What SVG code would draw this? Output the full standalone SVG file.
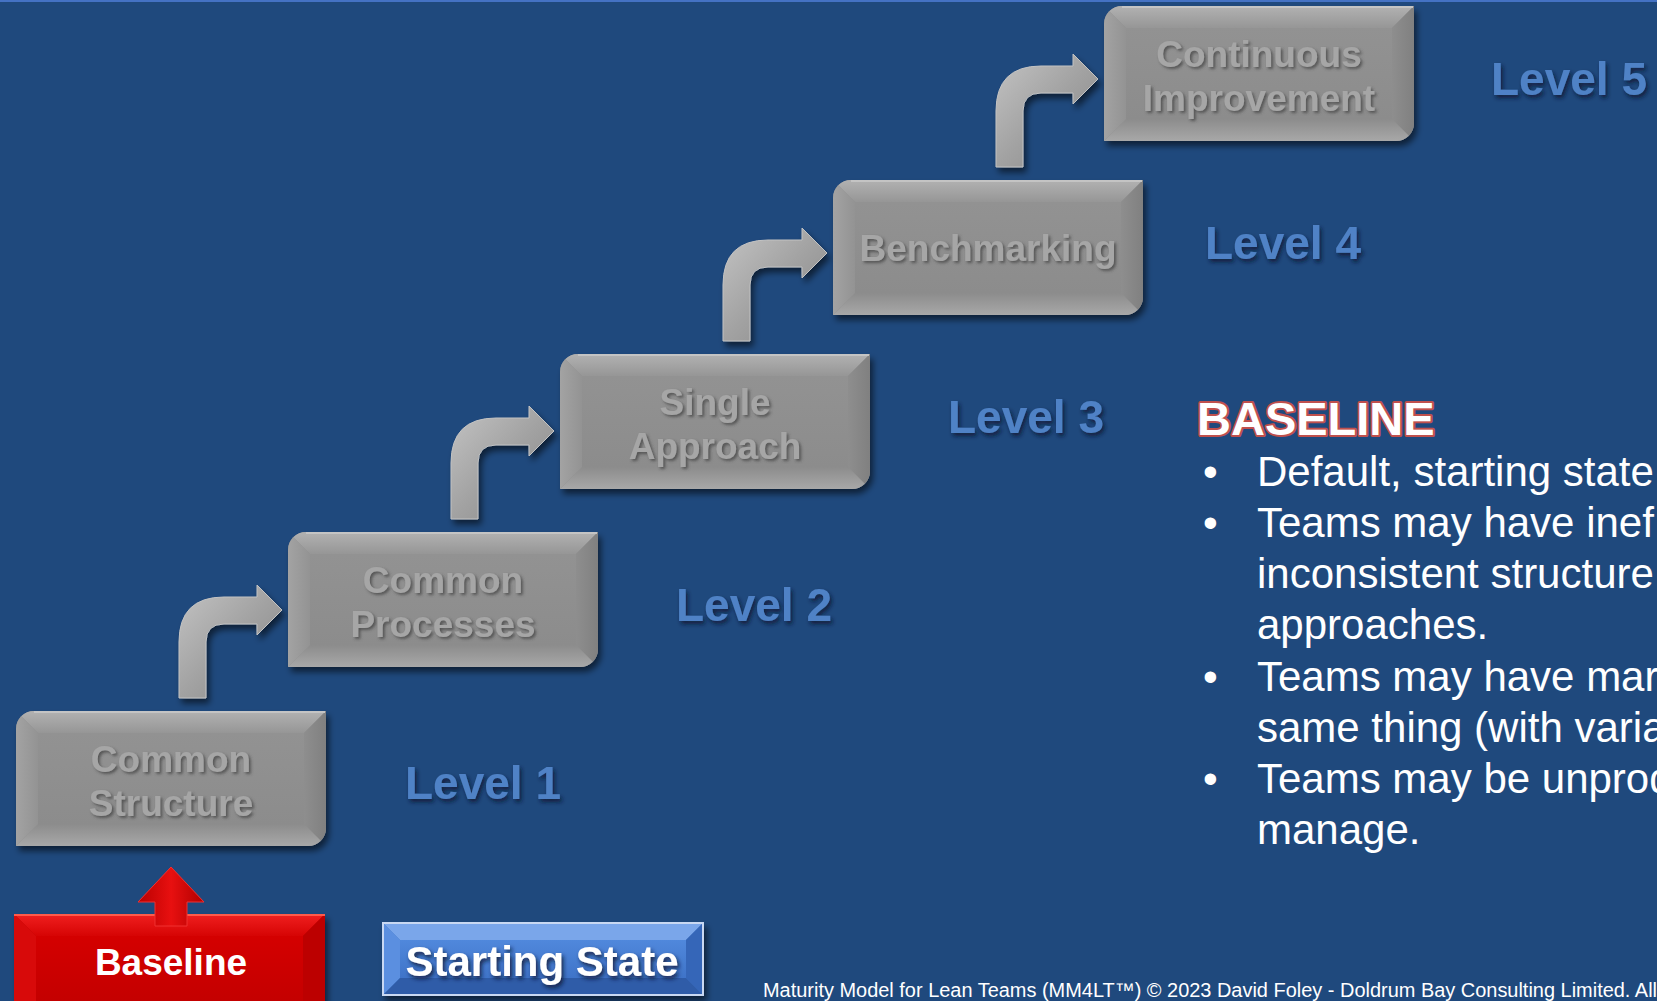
<svg xmlns="http://www.w3.org/2000/svg" xmlns:xlink="http://www.w3.org/1999/xlink" width="1657" height="1001" viewBox="0 0 1657 1001">
<style>
.lvl{font-family:"Liberation Sans",Arial,sans-serif;font-weight:bold;font-size:46px;fill:#4f82c6;filter:url(#tsh)}
.bt{font-family:"Liberation Sans",Arial,sans-serif;font-weight:bold;font-size:37px;fill:#a6a6a6;text-anchor:middle;filter:url(#tsh2)}
.body{font-family:"Liberation Sans",Arial,sans-serif;font-size:42px;fill:#ffffff}
.wt{font-family:"Liberation Sans",Arial,sans-serif;font-weight:bold;fill:#ffffff}
.arr{fill:url(#ag);stroke:#c2c2c2;stroke-width:1;filter:url(#sh)}
</style>
<defs>
<filter id="sh" x="-20%" y="-20%" width="150%" height="150%"><feDropShadow dx="3" dy="5" stdDeviation="3" flood-color="#000" flood-opacity="0.55"/></filter>
<filter id="tsh" x="-10%" y="-20%" width="130%" height="150%"><feDropShadow dx="2" dy="3" stdDeviation="2" flood-color="#081830" flood-opacity="0.85"/></filter>
<filter id="tsh2" x="-10%" y="-20%" width="130%" height="150%"><feDropShadow dx="2" dy="2" stdDeviation="1.5" flood-color="#3a3a3a" flood-opacity="0.7"/></filter>
<linearGradient id="ag" x1="0" y1="0" x2="1" y2="1"><stop offset="0" stop-color="#c4c4c4"/><stop offset="0.5" stop-color="#a2a2a2"/><stop offset="1" stop-color="#858585"/></linearGradient>
<linearGradient id="face" x1="0" y1="0" x2="0" y2="1"><stop offset="0" stop-color="#929292"/><stop offset="1" stop-color="#8c8c8c"/></linearGradient>
<linearGradient id="ftop" x1="0" y1="0" x2="0" y2="1"><stop offset="0" stop-color="#b2b2b2"/><stop offset="1" stop-color="#969696"/></linearGradient>
<linearGradient id="fleft" x1="0" y1="0" x2="1" y2="0"><stop offset="0" stop-color="#a3a3a3"/><stop offset="1" stop-color="#939393"/></linearGradient>
<linearGradient id="fright" x1="0" y1="0" x2="1" y2="0"><stop offset="0" stop-color="#8e8e8e"/><stop offset="1" stop-color="#808080"/></linearGradient>
<linearGradient id="fbot" x1="0" y1="0" x2="0" y2="1"><stop offset="0" stop-color="#8c8c8c"/><stop offset="1" stop-color="#a8a8a8"/></linearGradient>
<linearGradient id="rface" x1="0" y1="0" x2="0" y2="1"><stop offset="0" stop-color="#d40000"/><stop offset="1" stop-color="#c40000"/></linearGradient>
<linearGradient id="rtop" x1="0" y1="0" x2="0" y2="1"><stop offset="0" stop-color="#f02020"/><stop offset="1" stop-color="#d60404"/></linearGradient>
<linearGradient id="rarr" x1="0" y1="0" x2="1" y2="0"><stop offset="0" stop-color="#b80000"/><stop offset="0.5" stop-color="#e81010"/><stop offset="1" stop-color="#b00000"/></linearGradient>
<linearGradient id="bface" x1="0" y1="0" x2="0" y2="1"><stop offset="0" stop-color="#5088dc"/><stop offset="1" stop-color="#3f74c9"/></linearGradient>
<clipPath id="bclip"><path d="M18 0H310V117A18 18 0 0 1 292 135H0V18A18 18 0 0 1 18 0Z"/></clipPath>
<g id="gbox">
<path d="M18 0H310V117A18 18 0 0 1 292 135H0V18A18 18 0 0 1 18 0Z" fill="#8e8e8e" filter="url(#sh)"/>
<g clip-path="url(#bclip)">
<polygon points="0,0 310,0 288,22 22,22" fill="url(#ftop)"/>
<polygon points="310,0 310,135 288,113 288,22" fill="url(#fright)"/>
<polygon points="0,135 310,135 288,113 22,113" fill="url(#fbot)"/>
<polygon points="0,0 0,135 22,113 22,22" fill="url(#fleft)"/>
<rect x="22" y="22" width="266" height="91" fill="url(#face)"/>
<path d="M18 1H309" stroke="#c4c4c4" stroke-width="2" fill="none"/>
</g>
</g>
</defs>
<rect x="0" y="0" width="1657" height="1001" fill="#1f497d"/>
<rect x="0" y="0" width="1657" height="2" fill="#4472c4"/>

<g id="connectors">
<path class="arr" d="M179 698 V642 Q179 597 224 597 H257 V585 L282 610 L257 635 V624 H224 Q206 624 206 642 V698 Z"/>
<path class="arr" d="M451 519 V463 Q451 418 496 418 H529 V406 L554 431 L529 456 V445 H496 Q478 445 478 463 V519 Z"/>
<path class="arr" d="M723 341 V285 Q723 240 768 240 H802 V228 L827 253 L802 278 V267 H768 Q750 267 750 285 V341 Z"/>
<path class="arr" d="M996 167 V111 Q996 66 1041 66 H1073 V54 L1098 79 L1073 104 V93 H1041 Q1023 93 1023 111 V167 Z"/>
</g>

<g id="node-common-structure">
<use xlink:href="#gbox" href="#gbox" x="16" y="711"/>
<text class="bt" x="171" y="772">Common</text>
<text class="bt" x="171" y="816">Structure</text>
</g>
<g id="node-common-processes">
<use xlink:href="#gbox" href="#gbox" x="288" y="532"/>
<text class="bt" x="443" y="593">Common</text>
<text class="bt" x="443" y="637">Processes</text>
</g>
<g id="node-single-approach">
<use xlink:href="#gbox" href="#gbox" x="560" y="354"/>
<text class="bt" x="715" y="415">Single</text>
<text class="bt" x="715" y="459">Approach</text>
</g>
<g id="node-benchmarking">
<use xlink:href="#gbox" href="#gbox" x="833" y="180"/>
<text class="bt" x="988" y="261">Benchmarking</text>
</g>
<g id="node-continuous-improvement">
<use xlink:href="#gbox" href="#gbox" x="1104" y="6"/>
<text class="bt" x="1259" y="67">Continuous</text>
<text class="bt" x="1259" y="111">Improvement</text>
</g>

<g id="levels">
<text class="lvl" x="405" y="799">Level 1</text>
<text class="lvl" x="676" y="621">Level 2</text>
<text class="lvl" x="948" y="433">Level 3</text>
<text class="lvl" x="1205" y="259">Level 4</text>
<text class="lvl" x="1491" y="95">Level 5</text>
</g>

<g id="node-baseline">
<rect x="14" y="914" width="311" height="100" fill="#c00000" filter="url(#sh)"/>
<polygon points="14,914 325,914 303,936 36,936" fill="url(#rtop)"/>
<polygon points="14,914 36,936 36,1001 14,1001" fill="#d80a0a"/>
<polygon points="325,914 303,936 303,1001 325,1001" fill="#bc0000"/>
<rect x="36" y="936" width="267" height="65" fill="url(#rface)"/>
<path d="M14 915H325" stroke="#ff5a4a" stroke-width="2"/>
<text class="wt" x="171" y="975" font-size="37" text-anchor="middle">Baseline</text>
</g>
<g id="baseline-arrow">
<path d="M171 867 L204 902 H187 V926 H155 V902 H138 Z" fill="url(#rarr)" stroke="#f03030" stroke-width="1"/>
</g>

<g id="node-starting-state">
<rect x="383" y="923" width="320" height="72" fill="#3f74c9" stroke="#c9d8f2" stroke-width="2" filter="url(#sh)"/>
<polygon points="384,924 702,924 686,940 400,940" fill="#7aa6ea"/>
<polygon points="384,924 400,940 400,978 384,994" fill="#5b8fe0"/>
<polygon points="702,924 702,994 686,978 686,940" fill="#3566b8"/>
<polygon points="384,994 702,994 686,978 400,978" fill="#2f5ca8"/>
<rect x="400" y="940" width="286" height="38" fill="url(#bface)"/>
<text class="wt" x="542" y="976" font-size="42" text-anchor="middle" filter="url(#tsh)">Starting State</text>
</g>

<g id="description">
<text x="1197" y="435" font-family="Liberation Sans, Arial, sans-serif" font-weight="bold" font-size="47" fill="#ffffff" stroke="#c0504d" stroke-width="4" paint-order="stroke" stroke-linejoin="round">BASELINE</text>
<text class="body" x="1203" y="486">•</text>
<text class="body" x="1257" y="486">Default, starting state</text>
<text class="body" x="1203" y="537">•</text>
<text class="body" x="1257" y="537">Teams may have inef</text>
<text class="body" x="1257" y="588">inconsistent structure</text>
<text class="body" x="1257" y="639">approaches.</text>
<text class="body" x="1203" y="691">•</text>
<text class="body" x="1257" y="691">Teams may have mar</text>
<text class="body" x="1257" y="742">same thing (with varia</text>
<text class="body" x="1203" y="793">•</text>
<text class="body" x="1257" y="793">Teams may be unprod</text>
<text class="body" x="1257" y="844">manage.</text>
</g>

<text x="763" y="997" font-family="Liberation Sans Narrow, Liberation Sans, Arial, sans-serif" font-size="20" fill="#ffffff" textLength="894" lengthAdjust="spacingAndGlyphs">Maturity Model for Lean Teams (MM4LT™) © 2023 David Foley - Doldrum Bay Consulting Limited. All</text>
</svg>
